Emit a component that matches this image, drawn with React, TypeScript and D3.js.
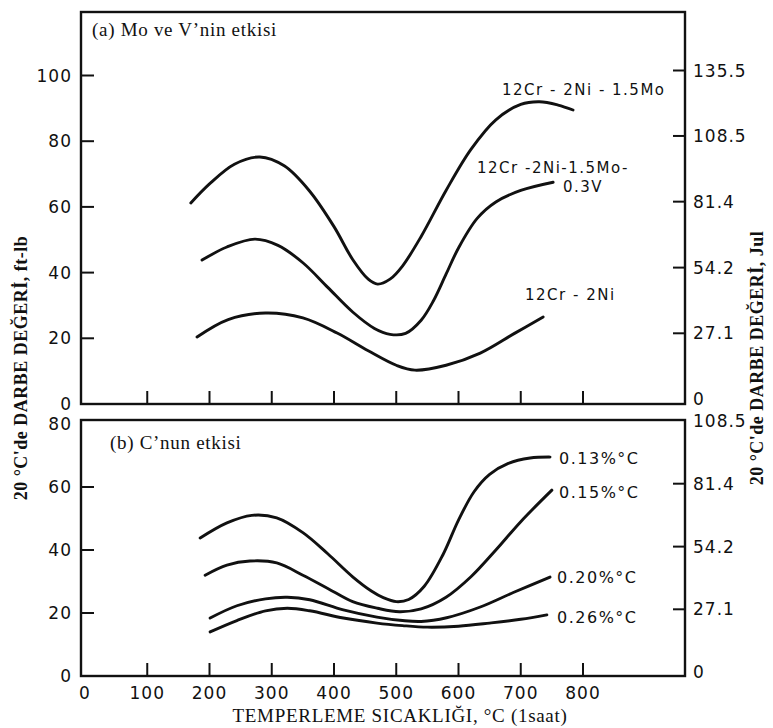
import React from "react";
import * as d3 from "d3";

// ---------- data ----------
const xTicks = [100, 200, 300, 400, 500, 600, 700, 800];
const xLabels = [0, 100, 200, 300, 400, 500, 600, 700, 800];
const leftTicksA = [0, 20, 40, 60, 80, 100];
const rightTicksA = [0, 27.1, 54.2, 81.4, 108.5, 135.5];
const leftTicksB = [0, 20, 40, 60, 80];
const rightTicksB = [0, 27.1, 54.2, 81.4, 108.5];

// Panel (a)
const moT = [170, 200, 240, 281, 320, 360, 400, 430, 455, 470, 490, 510, 540, 580, 620, 660, 700, 730, 760, 784];
const moV = [61.2, 67, 73, 75.2, 72.5, 65, 54, 44, 38, 36.5, 38, 42, 51, 65, 77.5, 86.5, 91.2, 92, 91, 89.5];
const moVT = [188, 228, 273, 310, 350, 390, 430, 465, 490, 515, 540, 560, 580, 600, 630, 660, 700, 752];
const moVV = [43.8, 47.8, 50.2, 48.3, 43, 35.5, 28, 23, 21.2, 21.5, 25.5, 31.5, 39.5, 47.5, 56.5, 61.5, 65, 67.5];
const niT = [180, 230, 290, 350, 405, 455, 500, 530, 580, 635, 690, 736];
const niV = [20.4, 25.7, 27.7, 26.2, 21.6, 16.2, 11.8, 10.3, 11.8, 15.5, 21.5, 26.5];

// Panel (b)
const c13T = [185, 228, 268, 308, 350, 390, 430, 460, 480, 500, 520, 545, 575, 600, 625, 650, 680, 715, 747];
const c13V = [43.8, 48.6, 51, 50.2, 45.5, 38.8, 31.5, 27, 24.8, 23.6, 24.3, 28.5, 38.5, 49.5, 58.5, 64, 67.5, 69.2, 69.5];
const c15T = [193, 228, 265, 308, 350, 390, 430, 470, 505, 540, 580, 620, 660, 700, 750];
const c15V = [32, 35.2, 36.5, 35.9, 32, 27.8, 23.6, 21.5, 20.4, 21.3, 25, 31.5, 40, 49, 59];
const c20T = [201, 244, 290, 325, 361, 415, 469, 510, 540, 581, 635, 688, 747];
const c20V = [18.4, 22.3, 24.5, 25, 24.2, 21, 18.7, 17.6, 17.3, 18.5, 21.9, 26.5, 31.4];
const c26T = [201, 244, 290, 325, 361, 415, 469, 510, 550, 600, 650, 700, 742];
const c26V = [14, 17.6, 20.7, 21.5, 20.7, 18.4, 16.8, 16, 15.5, 15.8, 16.8, 18, 19.4];

const zip = (t: number[], v: number[]) => t.map((d, i) => [d, v[i]] as [number, number]);

// ---------- layout ----------
const W = 773, H = 728;
const L = 81, R = 685;
const A_TOP = 12, A_BOT = 404;
const B_TOP = 420, B_BOT = 676;

const x = d3.scaleLinear().domain([0, 800]).range([85, 583]);
const yA = d3.scaleLinear().domain([0, 100]).range([A_BOT, 75.5]);
const yAJ = d3.scaleLinear().domain([0, 135.5]).range([399, 70.5]);
const yB = d3.scaleLinear().domain([0, 80]).range([B_BOT, 424]);
const yBJ = d3.scaleLinear().domain([0, 108.5]).range([672, 421]);

const tickFont = "'DejaVu Sans', sans-serif";
const serif = "'Liberation Serif', 'Times New Roman', serif";

function Curve({ data, y }: { data: [number, number][]; y: d3.ScaleLinear<number, number> }) {
  const line = d3
    .line<[number, number]>()
    .x((d) => x(d[0]))
    .y((d) => y(d[1]))
    .curve(d3.curveCatmullRom.alpha(0.5));
  return <path d={line(data) || ""} fill="none" stroke="#111" strokeWidth={2.9} strokeLinecap="round" />;
}

function Panel({
  top, bot, y, yJ, lt, rt, skipLeft, skipRight,
}: {
  top: number; bot: number;
  y: d3.ScaleLinear<number, number>; yJ: d3.ScaleLinear<number, number>;
  lt: number[]; rt: number[]; skipLeft: number[]; skipRight: number[];
}) {
  return (
    <g>
      <rect x={L} y={top} width={R - L} height={bot - top} fill="none" stroke="#111" strokeWidth={2.4} />
      {xTicks.map((t) => (
        <line key={"x" + t} x1={x(t)} x2={x(t)} y1={bot} y2={bot - 13} stroke="#111" strokeWidth={2} />
      ))}
      {lt.filter((v) => !skipLeft.includes(v)).map((v) => (
        <line key={"l" + v} x1={L} x2={L + 13} y1={y(v)} y2={y(v)} stroke="#111" strokeWidth={2} />
      ))}
      {rt.filter((v) => !skipRight.includes(v)).map((v) => (
        <line key={"r" + v} x1={R - 12} x2={R} y1={yJ(v)} y2={yJ(v)} stroke="#111" strokeWidth={2} />
      ))}
      {lt.map((v) => (
        <text key={"lt" + v} x={72} y={y(v)} textAnchor="end" dominantBaseline="central"
          fontFamily={tickFont} fontSize={17} letterSpacing={1} fill="#111">{v}</text>
      ))}
      {rt.map((v) => (
        <text key={"rt" + v} x={693} y={yJ(v)} textAnchor="start" dominantBaseline="central"
          fontFamily={tickFont} fontSize={17} letterSpacing={1} fill="#111">{v === 0 ? "0" : v.toFixed(1)}</text>
      ))}
    </g>
  );
}

export default function App() {
  const lbl = { fontFamily: tickFont, fontSize: 15, letterSpacing: 1.5, fill: "#111" } as const;
  return (
    <svg width={W} height={H} viewBox={`0 0 ${W} ${H}`}
      style={{ position: "absolute", left: 0, top: 0, background: "#fff" }}>
      <rect x={0} y={0} width={W} height={H} fill="#fff" />
      <Panel top={A_TOP} bot={A_BOT} y={yA} yJ={yAJ} lt={leftTicksA} rt={rightTicksA} skipLeft={[0]} skipRight={[0]} />
      <Panel top={B_TOP} bot={B_BOT} y={yB} yJ={yBJ} lt={leftTicksB} rt={rightTicksB} skipLeft={[0, 80]} skipRight={[0, 108.5]} />

      <text x={92} y={36} fontFamily={serif} fontSize={19} letterSpacing={0.7} fill="#111">(a) Mo ve V’nin etkisi</text>
      <text x={110} y={449} fontFamily={serif} fontSize={19} letterSpacing={0.7} fill="#111">(b) C’nun etkisi</text>

      <Curve data={zip(moT, moV)} y={yA} />
      <Curve data={zip(moVT, moVV)} y={yA} />
      <Curve data={zip(niT, niV)} y={yA} />

      <Curve data={zip(c13T, c13V)} y={yB} />
      <Curve data={zip(c15T, c15V)} y={yB} />
      <Curve data={zip(c20T, c20V)} y={yB} />
      <Curve data={zip(c26T, c26V)} y={yB} />

      <text x={502} y={90} dominantBaseline="central" {...lbl}>12Cr - 2Ni - 1.5Mo</text>
      <text x={477} y={168} dominantBaseline="central" {...lbl}>12Cr -2Ni-1.5Mo-</text>
      <text x={563} y={187} dominantBaseline="central" {...lbl}>0.3V</text>
      <text x={525} y={295} dominantBaseline="central" {...lbl}>12Cr - 2Ni</text>

      <text x={559} y={458} dominantBaseline="central" {...lbl} fontSize={16}>0.13%°C</text>
      <text x={559} y={492} dominantBaseline="central" {...lbl} fontSize={16}>0.15%°C</text>
      <text x={557} y={577} dominantBaseline="central" {...lbl} fontSize={16}>0.20%°C</text>
      <text x={557} y={617} dominantBaseline="central" {...lbl} fontSize={16}>0.26%°C</text>

      {xLabels.map((t) => (
        <text key={"xl" + t} x={x(t)} y={693} textAnchor="middle" dominantBaseline="central"
          fontFamily={tickFont} fontSize={17} letterSpacing={1} fill="#111">{t}</text>
      ))}

      <text x={400} y={722} textAnchor="middle" fontFamily={serif} fontSize={19} letterSpacing={0.7} fill="#111">
        TEMPERLEME SICAKLIĞI, °C (1saat)
      </text>
      <text transform={`translate(21,368) rotate(-90)`} textAnchor="middle" dominantBaseline="central"
        fontFamily={serif} fontWeight="bold" fontSize={18} letterSpacing={0.5} fill="#111">
        20 °C'de DARBE DEĞERİ, ft-lb
      </text>
      <text transform={`translate(757,358) rotate(-90)`} textAnchor="middle" dominantBaseline="central"
        fontFamily={serif} fontWeight="bold" fontSize={18} letterSpacing={0.5} fill="#111">
        20 °C'de DARBE DEĞERİ, Jul
      </text>
    </svg>
  );
}
